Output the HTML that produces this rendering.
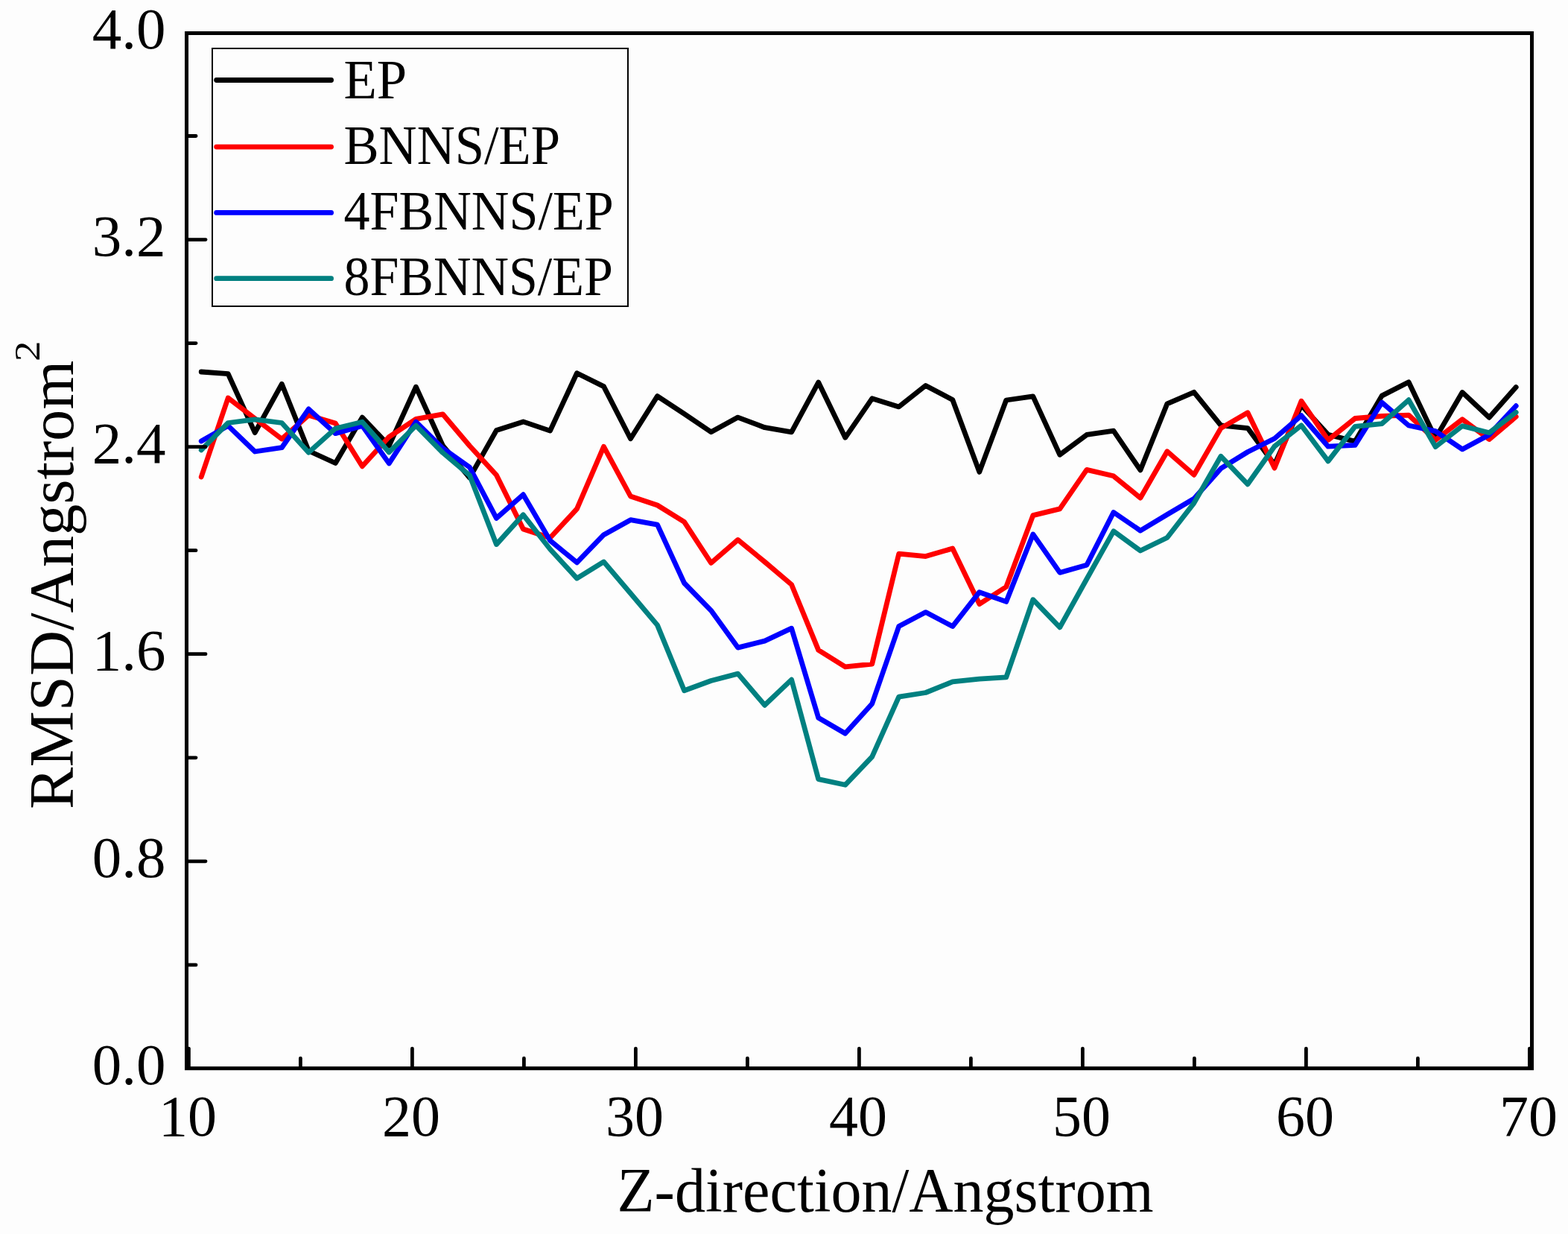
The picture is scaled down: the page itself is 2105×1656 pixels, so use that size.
<!DOCTYPE html>
<html><head><meta charset="utf-8"><style>
html,body{margin:0;padding:0;background:#fdfdfd;overflow:hidden;}
svg{display:block;}
text{font-family:"Liberation Serif","Times New Roman",serif;fill:#000;}
</style></head><body>
<svg width="2105" height="1656" viewBox="0 0 2105 1656">
<rect x="0" y="0" width="2105" height="1656" fill="#fdfdfd"/>
<g fill="none" stroke-width="6.8" stroke-linejoin="round" stroke-linecap="round">
<polyline points="270.2,499.0 306.2,501.7 342.2,580.7 378.3,515.3 414.3,605.0 450.3,621.5 486.3,560.1 522.3,598.1 558.4,519.2 594.4,598.0 630.4,641.1 666.4,577.6 702.4,565.9 738.5,578.1 774.5,500.7 810.5,518.6 846.5,588.7 882.5,531.6 918.6,555.3 954.6,579.8 990.6,560.1 1026.6,573.7 1062.6,579.8 1098.7,513.1 1134.7,587.3 1170.7,534.8 1206.7,545.9 1242.7,517.4 1278.8,536.5 1314.8,633.4 1350.8,537.0 1386.8,531.8 1422.8,610.3 1458.9,583.4 1494.9,578.2 1530.9,630.9 1566.9,541.8 1602.9,526.3 1639.0,570.8 1675.0,574.6 1711.0,623.4 1747.0,543.8 1783.0,583.3 1819.1,592.4 1855.1,531.1 1891.1,512.7 1927.1,588.1 1963.1,526.5 1999.2,560.3 2035.2,519.6" stroke="#000000"/>
<polyline points="270.2,640.0 306.2,534.0 342.2,561.6 378.3,589.1 414.3,557.2 450.3,568.0 486.3,625.8 522.3,586.3 558.4,562.4 594.4,555.8 630.4,598.2 666.4,637.5 702.4,709.9 738.5,721.8 774.5,682.9 810.5,599.3 846.5,666.0 882.5,678.0 918.6,700.3 954.6,755.5 990.6,724.4 1026.6,754.0 1062.6,784.5 1098.7,872.4 1134.7,894.9 1170.7,891.1 1206.7,743.2 1242.7,746.6 1278.8,736.0 1314.8,810.6 1350.8,787.5 1386.8,691.6 1422.8,682.9 1458.9,630.4 1494.9,638.8 1530.9,668.2 1566.9,605.7 1602.9,637.3 1639.0,574.6 1675.0,553.7 1711.0,628.1 1747.0,538.2 1783.0,590.5 1819.1,561.5 1855.1,558.3 1891.1,557.1 1927.1,590.5 1963.1,562.7 1999.2,589.6 2035.2,559.2" stroke="#ff0000"/>
<polyline points="270.2,592.0 306.2,571.4 342.2,606.0 378.3,600.7 414.3,548.9 450.3,581.7 486.3,571.4 522.3,621.9 558.4,566.2 594.4,601.6 630.4,627.0 666.4,695.4 702.4,663.7 738.5,725.4 774.5,754.9 810.5,717.7 846.5,697.7 882.5,704.1 918.6,782.5 954.6,819.3 990.6,869.1 1026.6,860.1 1062.6,843.2 1098.7,963.2 1134.7,984.2 1170.7,944.5 1206.7,840.5 1242.7,821.6 1278.8,840.6 1314.8,794.7 1350.8,807.4 1386.8,716.9 1422.8,768.4 1458.9,758.2 1494.9,687.5 1530.9,712.1 1566.9,690.5 1602.9,669.3 1639.0,628.7 1675.0,606.5 1711.0,588.5 1747.0,557.7 1783.0,599.2 1819.1,597.4 1855.1,540.1 1891.1,571.0 1927.1,578.6 1963.1,602.9 1999.2,583.4 2035.2,544.7" stroke="#0000ff"/>
<polyline points="270.2,603.9 306.2,567.5 342.2,562.8 378.3,567.5 414.3,607.2 450.3,575.0 486.3,566.2 522.3,606.9 558.4,571.1 594.4,607.5 630.4,637.8 666.4,730.6 702.4,690.8 738.5,737.0 774.5,776.1 810.5,753.9 846.5,796.3 882.5,838.9 918.6,926.7 954.6,913.5 990.6,904.1 1026.6,946.3 1062.6,912.1 1098.7,1045.6 1134.7,1053.3 1170.7,1015.6 1206.7,935.1 1242.7,929.5 1278.8,914.9 1314.8,911.2 1350.8,908.9 1386.8,804.7 1422.8,841.9 1458.9,777.0 1494.9,712.8 1530.9,739.0 1566.9,721.5 1602.9,675.1 1639.0,612.3 1675.0,649.8 1711.0,599.0 1747.0,570.9 1783.0,618.9 1819.1,572.4 1855.1,568.6 1891.1,536.7 1927.1,599.6 1963.1,571.6 1999.2,580.7 2035.2,553.4" stroke="#008080"/>
</g>
<g stroke="#000" stroke-width="4.8" stroke-linecap="round"><line x1="250.5" y1="1294.9" x2="263.0" y2="1294.9"/><line x1="250.5" y1="1155.8" x2="276.0" y2="1155.8"/><line x1="250.5" y1="1016.8" x2="263.0" y2="1016.8"/><line x1="250.5" y1="877.7" x2="276.0" y2="877.7"/><line x1="250.5" y1="738.7" x2="263.0" y2="738.7"/><line x1="250.5" y1="599.7" x2="276.0" y2="599.7"/><line x1="250.5" y1="460.6" x2="263.0" y2="460.6"/><line x1="250.5" y1="321.6" x2="276.0" y2="321.6"/><line x1="250.5" y1="182.5" x2="263.0" y2="182.5"/><line x1="253.4" y1="1433.7" x2="253.4" y2="1407.2"/><line x1="403.4" y1="1433.7" x2="403.4" y2="1420.2"/><line x1="553.4" y1="1433.7" x2="553.4" y2="1407.2"/><line x1="703.4" y1="1433.7" x2="703.4" y2="1420.2"/><line x1="853.4" y1="1433.7" x2="853.4" y2="1407.2"/><line x1="1003.4" y1="1433.7" x2="1003.4" y2="1420.2"/><line x1="1153.4" y1="1433.7" x2="1153.4" y2="1407.2"/><line x1="1303.4" y1="1433.7" x2="1303.4" y2="1420.2"/><line x1="1453.4" y1="1433.7" x2="1453.4" y2="1407.2"/><line x1="1603.4" y1="1433.7" x2="1603.4" y2="1420.2"/><line x1="1753.4" y1="1433.7" x2="1753.4" y2="1407.2"/><line x1="1903.4" y1="1433.7" x2="1903.4" y2="1420.2"/><line x1="2053.4" y1="1433.7" x2="2053.4" y2="1407.2"/></g>
<rect x="250.5" y="44.5" width="1806.0" height="1389.2" fill="none" stroke="#000" stroke-width="5"/>
<rect x="285" y="65" width="558" height="346" fill="#fdfdfd" stroke="#000" stroke-width="2"/><line x1="290.6" y1="107.5" x2="444.6" y2="107.5" stroke="#000000" stroke-width="6.8" stroke-linecap="round"/><text x="461.5" y="131.8" font-size="73" transform="translate(461.5 0) scale(0.995 1) translate(-461.5 0)">EP</text><line x1="290.6" y1="197.1" x2="444.6" y2="197.1" stroke="#ff0000" stroke-width="6.8" stroke-linecap="round"/><text x="461.5" y="219.8" font-size="73" transform="translate(461.5 0) scale(0.968 1) translate(-461.5 0)">BNNS/EP</text><line x1="290.6" y1="285.4" x2="444.6" y2="285.4" stroke="#0000ff" stroke-width="6.8" stroke-linecap="round"/><text x="461.5" y="307.8" font-size="73" transform="translate(461.5 0) scale(0.96 1) translate(-461.5 0)">4FBNNS/EP</text><line x1="290.6" y1="373.7" x2="444.6" y2="373.7" stroke="#008080" stroke-width="6.8" stroke-linecap="round"/><text x="461.5" y="396.3" font-size="73" transform="translate(461.5 0) scale(0.958 1) translate(-461.5 0)">8FBNNS/EP</text>
<g font-size="79"><text x="222.5" y="1455.4" text-anchor="end">0.0</text><text x="222.5" y="1177.3" text-anchor="end">0.8</text><text x="222.5" y="899.2" text-anchor="end">1.6</text><text x="222.5" y="621.2" text-anchor="end">2.4</text><text x="222.5" y="343.1" text-anchor="end">3.2</text><text x="222.5" y="65.0" text-anchor="end">4.0</text></g>
<g font-size="78" text-anchor="middle"><text x="251.9" y="1524">10</text><text x="551.9" y="1524">20</text><text x="851.9" y="1524">30</text><text x="1151.9" y="1524">40</text><text x="1451.9" y="1524">50</text><text x="1751.9" y="1524">60</text><text x="2051.9" y="1524">70</text></g>
<text x="1188.5" y="1625.8" font-size="84" text-anchor="middle" transform="translate(1188.5 0) scale(0.977 1) translate(-1188.5 0)">Z-direction/Angstrom</text>
<text transform="translate(97.9 1086) rotate(-90)" font-size="84.7">RMSD/Angstrom</text>
<text transform="translate(53 485) rotate(-90) scale(1.12 1)" font-size="49">2</text>
</svg>
</body></html>
